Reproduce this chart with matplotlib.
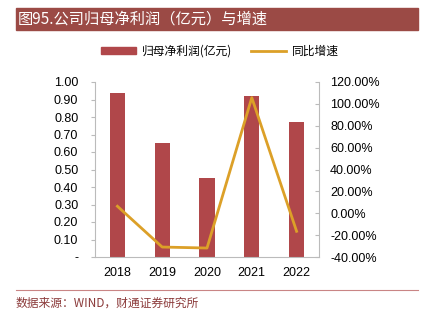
import numpy as np
import matplotlib.pyplot as plt
from matplotlib.patches import Rectangle
from matplotlib.lines import Line2D
from matplotlib.ticker import FuncFormatter

plt.rcParams['font.family'] = ['Liberation Sans', 'Noto Sans CJK SC', 'DejaVu Sans']

# 数据
years = ['2018', '2019', '2020', '2021', '2022']
profit = [0.94, 0.65, 0.45, 0.92, 0.77]          # 归母净利润(亿元)
growth = [6.4, -30.9, -31.8, 105.7, -16.5]        # 同比增速 (%)

bar_color = '#B0474A'
line_color = '#DCA028'
cjk = ['Noto Sans CJK SC', 'DejaVu Sans']

fig = plt.figure(figsize=(4.24, 3.21), dpi=100)
ax = fig.add_axes([95/424, 1-257/321, 224/424, 175/321])
ax2 = ax.twinx()

x = np.arange(len(years))
ax.bar(x, profit, width=0.34, color=bar_color, zorder=2)
ax2.plot(x, growth, color=line_color, lw=2, zorder=3)

ax.set_xlim(-0.5, len(years) - 0.5)
ax.set_ylim(0, 1.0)
ax.set_yticks(np.arange(0, 1.01, 0.1))
ax.yaxis.set_major_formatter(FuncFormatter(lambda v, p: '-' if abs(v) < 1e-9 else f'{v:.2f}'))
ax2.set_ylim(-40, 120)
ax2.set_yticks(np.arange(-40, 121, 20))
ax2.yaxis.set_major_formatter(FuncFormatter(lambda v, p: f'{v:.2f}%'))

ax.set_xticks(x)
ax.set_xticklabels(years)

for a in (ax, ax2):
    for s in a.spines.values():
        s.set_visible(False)
ax.spines['left'].set_visible(True)
ax.spines['bottom'].set_visible(True)
ax2.spines['right'].set_visible(True)
for s in (ax.spines['left'], ax.spines['bottom'], ax2.spines['right']):
    s.set_color('#BBBBBB')
    s.set_linewidth(0.8)

ax.tick_params(axis='x', length=0, pad=7, labelsize=9)
ax.tick_params(axis='y', length=3, color='#BBBBBB', pad=9, labelsize=9)
ax2.tick_params(axis='y', direction='in', length=3, color='#BBBBBB', pad=8, labelsize=9)

# 图例
handles = [Rectangle((0, 0), 1, 1, color=bar_color),
           Line2D([0], [0], color=line_color, lw=2)]
leg = fig.legend(handles, ['归母净利润(亿元)', '同比增速'], loc='center',
                 bbox_to_anchor=(220/424, 1-51/321), ncol=2, frameon=False,
                 handlelength=3, handleheight=0.6, handletextpad=0.5,
                 columnspacing=1.6, prop={'family': cjk, 'size': 8.5})

# 标题栏
fig.patches.append(Rectangle((16/424, 1-30/321), 402/424, 22/321,
                             transform=fig.transFigure, color='#9B4A45'))
fig.text(18/424, 1-19/321, '图95.公司归母净利润（亿元）与增速', color='white',
         fontsize=11, family=cjk, va='center', ha='left')

# 底部
fig.add_artist(Line2D([16/424, 418/424], [1-289.5/321, 1-289.5/321],
                      transform=fig.transFigure, color='#C98585', lw=0.8))
fig.text(16/424, 1-303/321, '数据来源：WIND，财通证券研究所', color='#8B3A3A',
         fontsize=8.5, family=cjk, va='center', ha='left')

plt.savefig('out.png', dpi=100)
